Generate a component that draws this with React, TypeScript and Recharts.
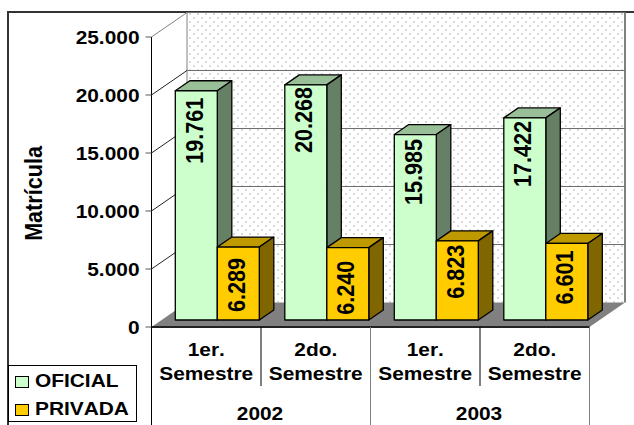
import { BarChart, Bar, XAxis, YAxis, CartesianGrid, Legend, LabelList } from 'recharts';

const semesterLines = [['1er.', 'Semestre'], ['2do.', 'Semestre'], ['1er.', 'Semestre'], ['2do.', 'Semestre']];
const semesters = ['2002-1', '2002-2', '2003-1', '2003-2'];
const years = ['2002', '2002', '2003', '2003'];
const oficial = [19761, 20268, 15985, 17422];
const privada = [6289, 6240, 6823, 6601];
const yTicks = [0, 5000, 10000, 15000, 20000, 25000];

const chartData = semesters.map((s, i) => ({
    semester: s,
    year: years[i],
    oficial: oficial[i],
    privada: privada[i],
}));

const fontFamily = '"Liberation Sans", Arial, sans-serif';
const WIDTH = 634;
const HEIGHT = 425;
const PLOT_LEFT = 151.5;
const PLOT_RIGHT = 589.5;
const PLOT_TOP = 37;
const PLOT_BOTTOM = 327;
const BAND = (PLOT_RIGHT - PLOT_LEFT) / 4;
const WALL_DX = 35.5;
const WALL_DY = 24.5;
const BAR_SHIFT_X = 11.3;
const BAR_SHIFT_Y = 7;
const BAR_DX = 14.5;
const BAR_DY = 10;

// distance from bar top to where each hand placed value label starts
const oficialLabelGap = [7, 2, 4.5, 3];
const privadaLabelGap = [11, 13, 4, 7];

function Stretched({ x, y, children, anchor = 'middle' }: any) {
    return (
        <text
            transform={`translate(${x},${y}) scale(1.16,1)`}
            textAnchor={anchor}
            fontFamily={fontFamily}
            fontWeight="bold"
            fontSize={18}
            fill="#000"
            style={{ fontKerning: 'none' }}
        >
            {children}
        </text>
    );
}

function Walls() {
    const backLeft = PLOT_LEFT + WALL_DX;
    const backRight = PLOT_RIGHT + WALL_DX;
    const backBottom = PLOT_BOTTOM - WALL_DY;
    const backTop = PLOT_TOP - WALL_DY;
    return (
        <g>
            <defs>
                <pattern id="dots" width="8" height="8" patternUnits="userSpaceOnUse">
                    <rect width="8" height="8" fill="#fff" />
                    <rect x="1" y="1" width="2" height="2" fill="#dadada" />
                    <rect x="5" y="5" width="2" height="2" fill="#dadada" />
                </pattern>
            </defs>
            <rect x={backLeft} y={backTop} width={backRight - backLeft} height={backBottom - backTop} fill="url(#dots)" />
            <line x1={backLeft} y1={backTop} x2={backLeft} y2={backBottom} stroke="#808080" />
            <line x1={backRight} y1={backTop} x2={backRight} y2={backBottom} stroke="#808080" strokeWidth={2} />
            <polygon
                points={`${PLOT_LEFT},${PLOT_BOTTOM} ${backLeft},${backBottom} ${backRight},${backBottom} ${PLOT_RIGHT},${PLOT_BOTTOM}`}
                fill="#808080"
            />
        </g>
    );
}

function GridLine({ x1, x2, y1 }: any) {
    const top = Math.abs(y1 - PLOT_TOP) < 1;
    const bottom = Math.abs(y1 - PLOT_BOTTOM) < 1;
    if (bottom) return null;
    return (
        <g>
            <line x1={x1} y1={y1} x2={x1 + WALL_DX} y2={y1 - WALL_DY} stroke={top ? '#808080' : '#222'} />
            <line x1={x1 + WALL_DX} y1={y1 - WALL_DY} x2={x2 + WALL_DX} y2={y1 - WALL_DY} stroke="#6e6e6e" strokeWidth={1.2} />
        </g>
    );
}

function Box3D({ x, y, width, height, front, top, side }: any) {
    const fx = x + BAR_SHIFT_X;
    const fy = y - BAR_SHIFT_Y;
    return (
        <g stroke="#000" strokeWidth={1.3} strokeLinejoin="round">
            <polygon
                points={`${fx},${fy} ${fx + BAR_DX},${fy - BAR_DY} ${fx + width + BAR_DX},${fy - BAR_DY} ${fx + width},${fy}`}
                fill={top}
            />
            <polygon
                points={`${fx + width},${fy} ${fx + width + BAR_DX},${fy - BAR_DY} ${fx + width + BAR_DX},${fy + height - BAR_DY} ${fx + width},${fy + height}`}
                fill={side}
            />
            <rect x={fx} y={fy} width={width} height={height} fill={front} />
        </g>
    );
}

function ValueLabel({ x, y, width, value, index, gaps }: any) {
    const cx = x + BAR_SHIFT_X + width / 2 - 2;
    const top = y - BAR_SHIFT_Y + gaps[index];
    return (
        <text
            transform={`translate(${cx + 8.5},${top}) rotate(-90) scale(1,1.1)`}
            textAnchor="end"
            fontFamily={fontFamily}
            fontWeight="bold"
            fontSize={21.6}
            fill="#000"
        >
            {Number(value).toLocaleString('de-DE')}
        </text>
    );
}

function AxisTitle() {
    return (
        <text
            transform="translate(41.5,193.5) rotate(-90) scale(1,1.1)"
            textAnchor="middle"
            fontFamily={fontFamily}
            fontWeight="bold"
            fontSize={21.6}
            fill="#000"
        >
            Matrícula
        </text>
    );
}

function YTick({ x, y, payload }: any) {
    return (
        <Stretched x={x - 4} y={y + 6.5} anchor="end">
            {payload.value === 0 ? '0' : Number(payload.value).toLocaleString('de-DE')}
        </Stretched>
    );
}

function SemesterTick({ x, index }: any) {
    const lines = semesterLines[index];
    const sep = x + BAND / 2;
    return (
        <g>
            <Stretched x={x} y={PLOT_BOTTOM + 29}>{lines[0]}</Stretched>
            <Stretched x={x} y={PLOT_BOTTOM + 52.5}>{lines[1]}</Stretched>
            {index % 2 === 0 && <line x1={sep} y1={PLOT_BOTTOM} x2={sep} y2={386} stroke="#000" />}
        </g>
    );
}

function YearTick({ x, index }: any) {
    const right = x + BAND / 2;
    const first = index % 2 === 0;
    return (
        <g>
            {index === 0 && <line x1={x - BAND / 2} y1={PLOT_BOTTOM} x2={x - BAND / 2} y2={HEIGHT} stroke="#000" />}
            {first && <Stretched x={right - 1} y={420}>{years[index]}</Stretched>}
            {!first && <line x1={right} y1={PLOT_BOTTOM} x2={right} y2={HEIGHT} stroke="#808080" />}
        </g>
    );
}

function LegendBox() {
    const rows = [
        { label: 'OFICIAL', color: '#CCFFCC', y: 11 },
        { label: 'PRIVADA', color: '#FFCC00', y: 39 },
    ];
    return (
        <svg width={129} height={57} style={{ display: 'block' }}>
            <rect x={0.5} y={0.5} width={128} height={56} fill="#fff" stroke="#000" />
            {rows.map((r) => (
                <g key={r.label}>
                    <rect x={7.5} y={r.y + 0.5} width={13} height={11} fill={r.color} stroke="#000" />
                    <Stretched x={27} y={r.y + 11} anchor="start">{r.label}</Stretched>
                </g>
            ))}
        </svg>
    );
}

export default function App() {
    return (
        <div style={{ position: 'absolute', left: 0, top: 0, width: WIDTH, height: HEIGHT, background: '#fff', overflow: 'hidden' }}>
            <div style={{ position: 'absolute', left: 7, top: 11, width: WIDTH, height: HEIGHT, borderLeft: '2px solid #333', borderTop: '2px solid #333', boxSizing: 'border-box' }} />
            <BarChart
                width={WIDTH}
                height={HEIGHT}
                data={chartData}
                margin={{ top: PLOT_TOP, right: WIDTH - PLOT_RIGHT, bottom: 0, left: PLOT_LEFT - 100 }}
                barCategoryGap={12.5}
                barGap={0}
                style={{ position: 'absolute', left: 0, top: 0 }}
            >
                {/* wall and floor sit under the lines, so they get their own grid layer */}
                <CartesianGrid horizontalValues={[0]} horizontal={() => <Walls />} vertical={false} />
                <CartesianGrid horizontal={(p: any) => <GridLine {...p} />} vertical={false} />
                <XAxis
                    xAxisId="sem"
                    dataKey="semester"
                    height={60}
                    interval={0}
                    tickLine={false}
                    axisLine={{ stroke: '#222', strokeWidth: 2 }}
                    tick={(p: any) => <SemesterTick {...p} />}
                />
                <XAxis
                    xAxisId="year"
                    dataKey="year"
                    height={38}
                    interval={0}
                    tickLine={false}
                    axisLine={false}
                    tick={(p: any) => <YearTick {...p} />}
                />
                <YAxis
                    width={100}
                    domain={[0, 25000]}
                    ticks={yTicks}
                    interval={0}
                    tickSize={6}
                    tickLine={{ stroke: '#595959' }}
                    axisLine={{ stroke: '#000' }}
                    tick={(p: any) => <YTick {...p} />}
                    label={{ content: () => <AxisTitle /> }}
                />
                <Legend
                    align="center"
                    verticalAlign="middle"
                    layout="horizontal"
                    wrapperStyle={{ position: 'absolute', left: 8, top: 365, width: 129, height: 57 }}
                    content={() => <LegendBox />}
                />
                <Bar
                    xAxisId="sem"
                    dataKey="oficial"
                    isAnimationActive={false}
                    shape={(p: any) => <Box3D {...p} front="#CCFFCC" top="#99BF99" side="#668066" />}
                >
                    <LabelList dataKey="oficial" content={(p: any) => <ValueLabel {...p} gaps={oficialLabelGap} />} />
                </Bar>
                <Bar
                    xAxisId="sem"
                    dataKey="privada"
                    isAnimationActive={false}
                    shape={(p: any) => <Box3D {...p} front="#FFCC00" top="#BF9900" side="#806600" />}
                >
                    <LabelList dataKey="privada" content={(p: any) => <ValueLabel {...p} gaps={privadaLabelGap} />} />
                </Bar>
            </BarChart>
        </div>
    );
}
